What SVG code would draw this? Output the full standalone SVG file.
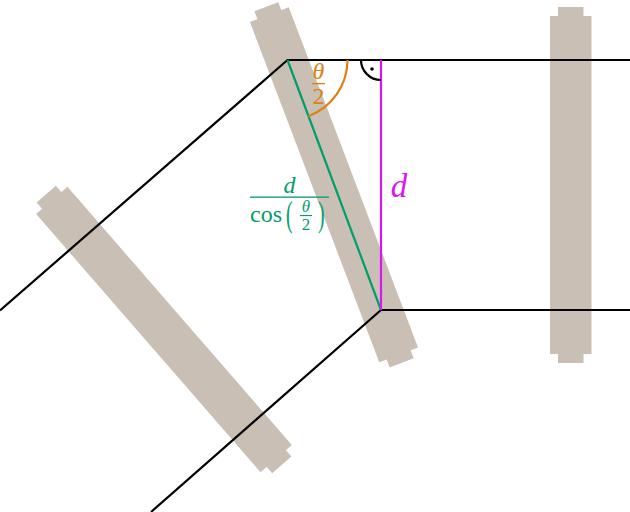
<svg xmlns="http://www.w3.org/2000/svg" width="630" height="512" viewBox="0 0 630 512">
  <style>
    .sleeper { fill: #c9bfb4; }
    .rail { fill: none; stroke: #000; stroke-width: 2.200; stroke-linejoin: round; }
    .m { font-family: "Liberation Serif", "DejaVu Serif", serif; }
    .i { font-style: italic; }
    .green { fill: #009e6a; }
    .orange { fill: #dc8210; }
    .magenta { fill: #d915f2; }
  </style>
  <rect width="630" height="512" fill="#fff"/>
  <g id="sleeper-left" transform="translate(164 329.500) rotate(-41)">
    <rect class="sleeper" x="-20.750" y="-171" width="41.500" height="342"/>
    <rect class="sleeper" x="-12.750" y="-179.500" width="25.500" height="359"/>
  </g>
  <g id="sleeper-middle" transform="translate(334 184.800) rotate(-20.800)">
    <rect class="sleeper" x="-20.750" y="-182" width="41.500" height="364"/>
    <rect class="sleeper" x="-12.750" y="-190.500" width="25.500" height="381"/>
  </g>
  <g id="sleeper-right">
    <rect class="sleeper" x="550" y="16" width="41.500" height="338"/>
    <rect class="sleeper" x="558" y="7" width="25.500" height="356"/>
  </g>
  <g id="connectors">
    <path class="rail" d="M0 310.500L287.500 60H630"/>
    <path class="rail" d="M151 512L381 310H630"/>
    <path fill="none" stroke="#009e6a" stroke-width="2.200" d="M287.500 60L381 310"/>
    <path fill="none" stroke="#d915f2" stroke-width="2.200" d="M381 60V310"/>
    <path fill="none" stroke="#dc8210" stroke-width="2.200" d="M347.500 60A60 60 0 0 1 308.500 116.200"/>
    <path fill="none" stroke="#000" stroke-width="2.200" d="M361 60A20 20 0 0 0 381 80"/>
    <circle cx="372" cy="69" r="1.800" fill="#000"/>
  </g>
  <g id="label-theta-half">
    <text class="m i orange" x="318.500" y="79" font-size="24" text-anchor="middle">θ</text>
    <rect class="orange" x="312" y="83" width="13" height="1.300"/>
    <text class="m orange" x="318.500" y="104" font-size="24" text-anchor="middle">2</text>
  </g>
  <g id="label-d">
    <text class="m i magenta" x="399" y="197" font-size="33" text-anchor="middle">d</text>
  </g>
  <g id="label-d-over-cos">
    <text class="m i green" x="289.500" y="193" font-size="24" text-anchor="middle">d</text>
    <rect class="green" x="250" y="196.500" width="79" height="1.300"/>
    <text class="m green" x="250" y="222" font-size="24">cos</text>
    <text class="m green" transform="translate(286 226) scale(0.700 1.250)" font-size="28">(</text>
    <text class="m i green" x="306" y="212" font-size="17" text-anchor="middle">θ</text>
    <rect class="green" x="300" y="215" width="12" height="1.100"/>
    <text class="m green" x="306" y="230" font-size="17" text-anchor="middle">2</text>
    <text class="m green" transform="translate(318 226) scale(0.700 1.250)" font-size="28">)</text>
  </g>
</svg>
